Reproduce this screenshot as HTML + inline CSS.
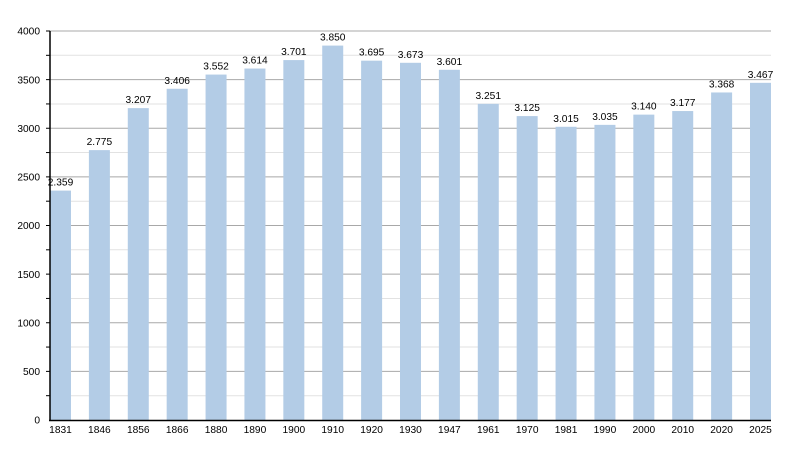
<!DOCTYPE html>
<html><head><meta charset="utf-8"><style>
html,body{margin:0;padding:0;background:#fff;}
svg{display:block;font-family:"Liberation Sans",Arial,sans-serif;}
</style></head><body>
<svg width="800" height="450" viewBox="0 0 800 450" xmlns="http://www.w3.org/2000/svg">
<g stroke-width="1">
<line x1="50" x2="771" y1="395.69" y2="395.69" stroke="#e2e2e2"/>
<line x1="50" x2="771" y1="347.06" y2="347.06" stroke="#e2e2e2"/>
<line x1="50" x2="771" y1="298.44" y2="298.44" stroke="#e2e2e2"/>
<line x1="50" x2="771" y1="249.81" y2="249.81" stroke="#e2e2e2"/>
<line x1="50" x2="771" y1="201.19" y2="201.19" stroke="#e2e2e2"/>
<line x1="50" x2="771" y1="152.56" y2="152.56" stroke="#e2e2e2"/>
<line x1="50" x2="771" y1="103.94" y2="103.94" stroke="#e2e2e2"/>
<line x1="50" x2="771" y1="55.31" y2="55.31" stroke="#e2e2e2"/>
<line x1="50" x2="771" y1="371.38" y2="371.38" stroke="#a8a8a8"/>
<line x1="50" x2="771" y1="322.75" y2="322.75" stroke="#a8a8a8"/>
<line x1="50" x2="771" y1="274.13" y2="274.13" stroke="#a8a8a8"/>
<line x1="50" x2="771" y1="225.5" y2="225.5" stroke="#a8a8a8"/>
<line x1="50" x2="771" y1="176.88" y2="176.88" stroke="#a8a8a8"/>
<line x1="50" x2="771" y1="128.25" y2="128.25" stroke="#a8a8a8"/>
<line x1="50" x2="771" y1="79.63" y2="79.63" stroke="#a8a8a8"/>
<line x1="50" x2="771" y1="31" y2="31" stroke="#a8a8a8"/>
</g>
<g fill="#b3cce6">
<rect x="50" y="190.59" width="21" height="229.41"/>
<rect x="88.89" y="150.13" width="21" height="269.87"/>
<rect x="127.78" y="108.12" width="21" height="311.88"/>
<rect x="166.67" y="88.77" width="21" height="331.23"/>
<rect x="205.56" y="74.57" width="21" height="345.43"/>
<rect x="244.44" y="68.54" width="21" height="351.46"/>
<rect x="283.33" y="60.08" width="21" height="359.92"/>
<rect x="322.22" y="45.59" width="21" height="374.41"/>
<rect x="361.11" y="60.66" width="21" height="359.34"/>
<rect x="400" y="62.80" width="21" height="357.20"/>
<rect x="438.89" y="69.80" width="21" height="350.20"/>
<rect x="477.78" y="103.84" width="21" height="316.16"/>
<rect x="516.67" y="116.09" width="21" height="303.91"/>
<rect x="555.56" y="126.79" width="21" height="293.21"/>
<rect x="594.44" y="124.85" width="21" height="295.15"/>
<rect x="633.33" y="114.63" width="21" height="305.37"/>
<rect x="672.22" y="111.04" width="21" height="308.96"/>
<rect x="711.11" y="92.46" width="21" height="327.54"/>
<rect x="750" y="82.83" width="21" height="337.17"/>
</g>
<g font-size="10.2" text-anchor="middle" fill="#000">
<text x="60.5" y="185.59">2.359</text>
<text x="99.39" y="145.13">2.775</text>
<text x="138.28" y="103.12">3.207</text>
<text x="177.17" y="83.77">3.406</text>
<text x="216.06" y="69.57">3.552</text>
<text x="254.94" y="63.54">3.614</text>
<text x="293.83" y="55.08">3.701</text>
<text x="332.72" y="40.59">3.850</text>
<text x="371.61" y="55.66">3.695</text>
<text x="410.5" y="57.80">3.673</text>
<text x="449.39" y="64.80">3.601</text>
<text x="488.28" y="98.84">3.251</text>
<text x="527.17" y="111.09">3.125</text>
<text x="566.06" y="121.79">3.015</text>
<text x="604.94" y="119.85">3.035</text>
<text x="643.83" y="109.63">3.140</text>
<text x="682.72" y="106.04">3.177</text>
<text x="721.61" y="87.46">3.368</text>
<text x="760.5" y="77.83">3.467</text>
</g>
<g font-size="10.2" text-anchor="middle" fill="#000">
<text x="60.5" y="433">1831</text>
<text x="99.39" y="433">1846</text>
<text x="138.28" y="433">1856</text>
<text x="177.17" y="433">1866</text>
<text x="216.06" y="433">1880</text>
<text x="254.94" y="433">1890</text>
<text x="293.83" y="433">1900</text>
<text x="332.72" y="433">1910</text>
<text x="371.61" y="433">1920</text>
<text x="410.5" y="433">1930</text>
<text x="449.39" y="433">1947</text>
<text x="488.28" y="433">1961</text>
<text x="527.17" y="433">1970</text>
<text x="566.06" y="433">1981</text>
<text x="604.94" y="433">1990</text>
<text x="643.83" y="433">2000</text>
<text x="682.72" y="433">2010</text>
<text x="721.61" y="433">2020</text>
<text x="760.5" y="433">2025</text>
</g>
<g font-size="10.2" text-anchor="end" fill="#000">
<text x="40" y="423.7">0</text>
<text x="40" y="375.1">500</text>
<text x="40" y="326.5">1000</text>
<text x="40" y="277.8">1500</text>
<text x="40" y="229.2">2000</text>
<text x="40" y="180.6">2500</text>
<text x="40" y="132">3000</text>
<text x="40" y="83.3">3500</text>
<text x="40" y="34.7">4000</text>
</g>
<g stroke="#000" stroke-width="1">
<line x1="46" x2="50" y1="395.69" y2="395.69"/>
<line x1="46" x2="50" y1="371.38" y2="371.38"/>
<line x1="46" x2="50" y1="347.06" y2="347.06"/>
<line x1="46" x2="50" y1="322.75" y2="322.75"/>
<line x1="46" x2="50" y1="298.44" y2="298.44"/>
<line x1="46" x2="50" y1="274.13" y2="274.13"/>
<line x1="46" x2="50" y1="249.81" y2="249.81"/>
<line x1="46" x2="50" y1="225.5" y2="225.5"/>
<line x1="46" x2="50" y1="201.19" y2="201.19"/>
<line x1="46" x2="50" y1="176.88" y2="176.88"/>
<line x1="46" x2="50" y1="152.56" y2="152.56"/>
<line x1="46" x2="50" y1="128.25" y2="128.25"/>
<line x1="46" x2="50" y1="103.94" y2="103.94"/>
<line x1="46" x2="50" y1="79.63" y2="79.63"/>
<line x1="46" x2="50" y1="55.31" y2="55.31"/>
<line x1="46" x2="50" y1="31" y2="31"/>
</g>
<line x1="50" x2="50" y1="31" y2="421" stroke="#000" stroke-width="1.5"/>
<line x1="49" x2="771" y1="420.5" y2="420.5" stroke="#000" stroke-width="1.5"/>
</svg>
</body></html>
